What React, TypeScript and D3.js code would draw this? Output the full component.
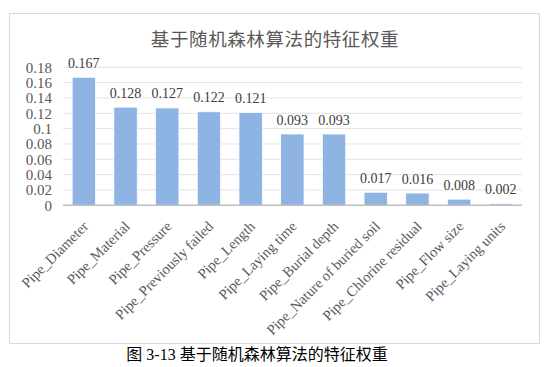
import React from "react";
import * as d3 from "d3";

// 特征名称与权重
const features = [
  "Pipe_Diameter",
  "Pipe_Material",
  "Pipe_Pressure",
  "Pipe_Previously failed",
  "Pipe_Length",
  "Pipe_Laying time",
  "Pipe_Burial depth",
  "Pipe_Nature of buried soil",
  "Pipe_Chlorine residual",
  "Pipe_Flow size",
  "Pipe_Laying units",
];
const weights = [0.167, 0.128, 0.127, 0.122, 0.121, 0.093, 0.093, 0.017, 0.016, 0.008, 0.002];
const yTicks = [0, 0.02, 0.04, 0.06, 0.08, 0.1, 0.12, 0.14, 0.16, 0.18];

const chartTitle = "基于随机森林算法的特征权重";
const caption = "图 3-13 基于随机森林算法的特征权重";

const W = 551;
const H = 367;
const serif = "Liberation Serif, DejaVu Serif, Noto Sans CJK SC, serif";

export default function App() {
  const x = d3
    .scaleBand<string>()
    .domain(features)
    .range([63, 521.7])
    .paddingInner(0.44)
    .paddingOuter(0.22);
  const y = d3.scaleLinear().domain([0, 0.18]).range([205.3, 67.3]);
  const fmt = (v: number) => String(Number(v.toFixed(2)));

  return (
    <svg
      width={W}
      height={H}
      style={{ position: "absolute", left: 0, top: 0, background: "#fff" }}
    >
      <rect x={9.5} y={13.5} width={530} height={330} fill="#fff" stroke="#d9d9d9" strokeWidth={1} />
      <text
        x={275}
        y={46}
        textAnchor="middle"
        fill="#595959"
        letterSpacing={0.6}
        style={{ fontFamily: "Noto Sans CJK SC, sans-serif", fontSize: 18.5 }}
      >
        {chartTitle}
      </text>

      {/* grid */}
      {yTicks.slice(1).map((t) => (
        <line key={t} x1={63} x2={522} y1={y(t)} y2={y(t)} stroke="#e3e3e3" strokeWidth={1} />
      ))}
      {yTicks.map((t) => (
        <text
          key={"l" + t}
          x={52}
          y={y(t)}
          dy="0.35em"
          textAnchor="end"
          fill="#595959"
          style={{ fontFamily: serif, fontSize: 15 }}
        >
          {fmt(t)}
        </text>
      ))}

      {/* bars */}
      {features.map((f, i) => (
        <g key={f}>
          <rect
            x={x(f)}
            y={y(weights[i])}
            width={x.bandwidth()}
            height={y(0) - y(weights[i])}
            fill="#8db4e2"
            stroke="#fff"
            strokeWidth={0.75}
          />
          <text
            x={(x(f) as number) + x.bandwidth() / 2}
            y={y(weights[i]) - 9.5}
            textAnchor="middle"
            fill="#404040"
            style={{ fontFamily: serif, fontSize: 14 }}
          >
            {weights[i].toFixed(3)}
          </text>
          <text
            transform={`translate(${(x(f) as number) + x.bandwidth() / 2 - 2},${220}) rotate(-45)`}
            dy="0.71em"
            textAnchor="end"
            fill="#595959"
            style={{ fontFamily: serif, fontSize: 14.5 }}
          >
            {f}
          </text>
        </g>
      ))}

      <line x1={63} x2={522} y1={y(0)} y2={y(0)} stroke="#bfbfbf" strokeWidth={1.5} />

      <text x={257} y={360} textAnchor="middle" fill="#000" style={{ fontFamily: serif, fontSize: 16 }}>
        {caption}
      </text>
    </svg>
  );
}
